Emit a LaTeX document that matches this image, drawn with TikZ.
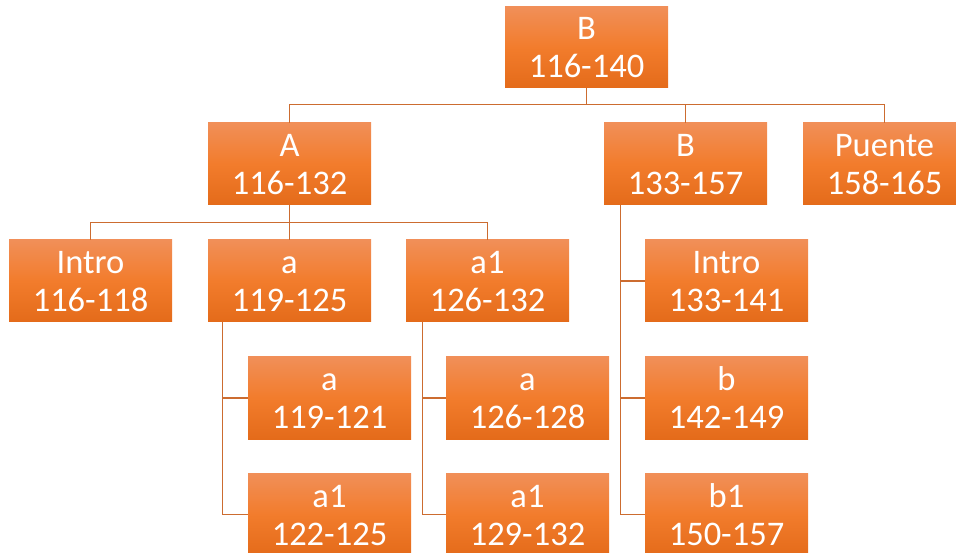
\documentclass[tikz,border=0pt]{standalone}
\usepackage{fontspec}
\setmainfont{Carlito}
\usetikzlibrary{calc}
\definecolor{otop}{RGB}{241,143,88}
\definecolor{omid}{RGB}{242,124,44}
\definecolor{obot}{RGB}{228,107,26}
\definecolor{lnk}{RGB}{204,108,48}
\newcommand\twol[2]{\rule{0pt}{25pt}#1\\#2\rule[-2pt]{0pt}{2pt}}
\tikzset{
  box/.style={rectangle, inner sep=0pt, minimum width=163pt, minimum height=82pt,
    top color=otop, bottom color=obot, middle color=omid, text=white, align=center,
    font=\fontsize{34.5}{38}\selectfont},
  conn/.style={draw=lnk, line width=1.3pt}
}
\begin{document}
\begin{tikzpicture}[x=1pt,y=-1pt]
\useasboundingbox (0,0) rectangle (956,553);
\node[box, minimum height=81pt] (root) at (586.5,47.5) {\twol{B}{116-140}};
\node[box] (A) at (289.5,164) {\twol{A}{116-132}};
\node[box] (B2) at (685.5,164) {\twol{B}{133-157}};
\node[box] (P) at (884.5,164) {\twol{Puente}{158-165}};
\node[box] (intro) at (90.5,281) {\twol{Intro}{116-118}};
\node[box] (a) at (289.5,281) {\twol{a}{119-125}};
\node[box] (a1) at (487.5,281) {\twol{a1}{126-132}};
\node[box] (introB) at (726.5,281) {\twol{Intro}{133-141}};
\node[box] (aa) at (329.5,398) {\twol{a}{119-121}};
\node[box] (aa1) at (329.5,514.5) {\twol{a1}{122-125}};
\node[box] (ba) at (527.5,398) {\twol{a}{126-128}};
\node[box] (ba1) at (527.5,514.5) {\twol{a1}{129-132}};
\node[box] (b) at (726.5,398) {\twol{b}{142-149}};
\node[box] (b1) at (726.5,514.5) {\twol{b1}{150-157}};
% root bus
\coordinate (r1) at ($(root.south)+(0,16)$);
\draw[conn] (root.south) -- (r1);
\draw[conn] (r1) -| (A.north);
\draw[conn] (r1) -| (B2.north);
\draw[conn] (r1) -| (P.north);
% A bus
\coordinate (a0) at ($(A.south)+(0,17)$);
\draw[conn] (A.south) -- (a0);
\draw[conn] (a0) -| (intro.north);
\draw[conn] (a0) -| (a.north);
\draw[conn] (a0) -| (a1.north);
% B vertical
\coordinate (bt) at ($(B2.south west)+(17,0)$);
\draw[conn] (bt) |- (introB.west);
\draw[conn] (bt) |- (b.west);
\draw[conn] (bt) |- (b1.west);
% a vertical
\coordinate (at) at ($(a.south west)+(15,0)$);
\draw[conn] (at) |- (aa.west);
\draw[conn] (at) |- (aa1.west);
% a1 vertical
\coordinate (a1t) at ($(a1.south west)+(17,0)$);
\draw[conn] (a1t) |- (ba.west);
\draw[conn] (a1t) |- (ba1.west);
\end{tikzpicture}
\end{document}
